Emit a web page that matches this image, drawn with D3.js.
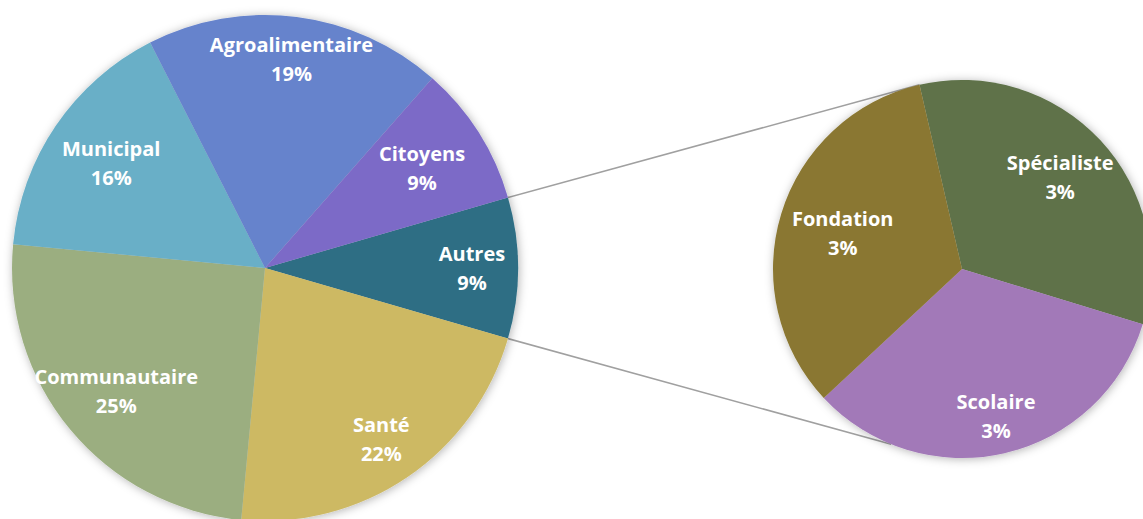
<!DOCTYPE html>
<html>
<head>
<meta charset="utf-8">
<script src="https://cdn.jsdelivr.net/npm/d3@7"></script>
<style>
  body { margin: 0; background: #fff; }
  svg { display: block; }
</style>
</head>
<body>
<div id="chart"></div>
<script>
// main pie data
var mainCats = ["Autres", "Santé", "Communautaire", "Municipal", "Agroalimentaire", "Citoyens"];
var mainVals = [9, 22, 25, 16, 19, 9];
// second pie (breakdown of "Autres")
var subCats = ["Spécialiste", "Scolaire", "Fondation"];
var subVals = [3, 3, 3];

var mainColors = ["#2e6e84", "#cdb964", "#9bae80", "#69afc7", "#6683cc", "#7b6ac7"];
var subColors = ["#5e724a", "#a279b8", "#8a7731"];

// label distance from centre, as a fraction of radius
var mainLabelR = [0.818, 0.818, 0.763, 0.735, 0.834, 0.735];
var subLabelR = [0.71, 0.80, 0.66];

var W = 1143, H = 519;
var c1 = { x: 265, y: 268, r: 253 };
var c2 = { x: 962, y: 269, r: 189 };

var svg = d3.select("#chart")
    .append("svg")
    .attr("width", W)
    .attr("height", H);

var defs = svg.append("defs");
var f = defs.append("filter")
    .attr("id", "shadow")
    .attr("x", "-20%").attr("y", "-20%")
    .attr("width", "140%").attr("height", "140%");
f.append("feDropShadow")
    .attr("dx", 1).attr("dy", 1)
    .attr("stdDeviation", 5)
    .attr("flood-color", "#000")
    .attr("flood-opacity", 0.3);

var deg = Math.PI / 180;
var half = mainVals[0] / 100 * Math.PI; // half of "Autres" angle

var pie1 = d3.pie().sort(null)
    .startAngle(Math.PI / 2 - half)
    .endAngle(Math.PI / 2 - half + 2 * Math.PI);
var pie2 = d3.pie().sort(null)
    .startAngle(-13 * deg)
    .endAngle(-13 * deg + 2 * Math.PI);

var arcs1 = pie1(mainVals);
var arcs2 = pie2(subVals);

// connector lines
function pt(c, a) {
    return [c.x + c.r * Math.sin(a), c.y - c.r * Math.cos(a)];
}
var a1 = arcs1[0];
var lines = [
    [pt(c1, a1.startAngle), pt(c2, -13 * deg)],
    [pt(c1, a1.endAngle), pt(c2, 202 * deg)]
];
svg.append("g").attr("class", "connectors")
    .selectAll("line")
    .data(lines)
    .enter()
    .append("line")
    .attr("x1", function(d) { return d[0][0]; })
    .attr("y1", function(d) { return d[0][1]; })
    .attr("x2", function(d) { return d[1][0]; })
    .attr("y2", function(d) { return d[1][1]; })
    .attr("stroke", "#a0a0a0")
    .attr("stroke-width", 1.5);

function drawPie(c, arcs, cats, vals, colors, labelR, cls) {
    var g = svg.append("g")
        .attr("class", cls)
        .attr("transform", "translate(" + c.x + "," + c.y + ")");

    var arc = d3.arc().innerRadius(0).outerRadius(c.r);

    g.append("g")
        .attr("filter", "url(#shadow)")
        .selectAll("path")
        .data(arcs)
        .enter()
        .append("path")
        .attr("d", arc)
        .attr("fill", function(d, i) { return colors[i]; });

    var lab = g.selectAll("text")
        .data(arcs)
        .enter()
        .append("text")
        .attr("transform", function(d, i) {
            var m = (d.startAngle + d.endAngle) / 2;
            var rr = c.r * labelR[i];
            return "translate(" + (rr * Math.sin(m)) + "," + (-rr * Math.cos(m)) + ")";
        })
        .attr("text-anchor", "middle")
        .attr("font-family", "'Open Sans', sans-serif")
        .attr("font-weight", 700)
        .attr("font-size", 20)
        .attr("fill", "#fff");

    lab.append("tspan")
        .attr("x", 0)
        .attr("y", -14.5)
        .attr("dominant-baseline", "central")
        .text(function(d, i) { return cats[i]; });
    lab.append("tspan")
        .attr("x", 0)
        .attr("y", 14.5)
        .attr("dominant-baseline", "central")
        .text(function(d, i) { return vals[i] + "%"; });
}

drawPie(c1, arcs1, mainCats, mainVals, mainColors, mainLabelR, "main-pie");
drawPie(c2, arcs2, subCats, subVals, subColors, subLabelR, "sub-pie");
</script>
</body>
</html>
